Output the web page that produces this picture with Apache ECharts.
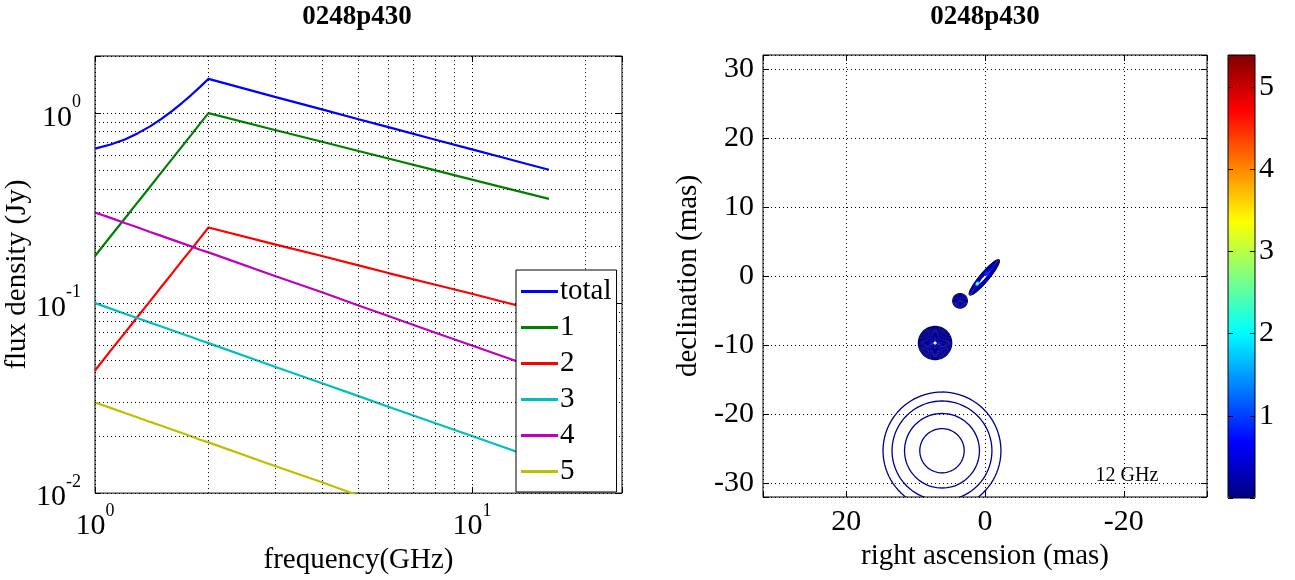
<!DOCTYPE html>
<html><head><meta charset="utf-8">
<script src="https://cdn.jsdelivr.net/npm/echarts@6/dist/echarts.min.js"></script>
<style>html,body{margin:0;padding:0;background:#fff}#c{width:1295px;height:580px}</style>
</head><body><div id="c"></div>
<script>
// ---------------- data ----------------
const TITLE_LEFT = '0248p430';
const TITLE_RIGHT = '0248p430';
const FREQ_LABEL = 'frequency(GHz)';
const FLUX_LABEL = 'flux density (Jy)';
const RA_LABEL = 'right ascension (mas)';
const DEC_LABEL = 'declination (mas)';
const MAP_FREQ_TEXT = '12 GHz';

const SERIES_NAMES = ['total', '1', '2', '3', '4', '5'];
const FREQ = [1, 1.1, 1.2, 1.3, 1.4, 1.5, 1.6, 1.7, 1.8, 1.9, 2, 3, 4, 5, 6, 8, 10, 12, 14, 16];
const S_TOTAL = [0.651, 0.684, 0.727, 0.785, 0.852, 0.934, 1.026, 1.131, 1.246, 1.375, 1.515, 1.219, 1.047, 0.929, 0.844, 0.725, 0.645, 0.586, 0.540, 0.504];
const S_1 = [0.177, 0.225, 0.279, 0.341, 0.410, 0.488, 0.573, 0.667, 0.769, 0.881, 1.0, 0.816, 0.707, 0.632, 0.577, 0.5, 0.447, 0.408, 0.378, 0.354];
const S_2 = [0.0442, 0.0562, 0.0697, 0.0853, 0.1025, 0.122, 0.143, 0.167, 0.192, 0.220, 0.25, 0.204, 0.177, 0.158, 0.144, 0.125, 0.112, 0.102, 0.0945, 0.0884];
const S_3 = [0.1, 0.0936, 0.088, 0.0832, 0.079, 0.0753, 0.072, 0.069, 0.0663, 0.0638, 0.0616, 0.0463, 0.0379, 0.0324, 0.0285, 0.0233, 0.0200, 0.0176, 0.0158, 0.0144];
const S_4 = [0.3, 0.281, 0.264, 0.250, 0.237, 0.226, 0.216, 0.207, 0.199, 0.191, 0.185, 0.139, 0.114, 0.0972, 0.0855, 0.0699, 0.0599, 0.0527, 0.0473, 0.0431];
const S_5 = [0.03, 0.0281, 0.0264, 0.025, 0.0237, 0.0226, 0.0216, 0.0207, 0.0199, 0.0191, 0.0185, 0.0139, 0.0114, 0.00972, 0.00855, 0.00699, 0.00599, 0.00527, 0.00473, 0.00431];
const SERIES_COLORS = ['#0000ff', '#008000', '#ff0000', '#00bfbf', '#bf00bf', '#bfbf00'];

const X_MINOR_GRID = [2, 3, 4, 5, 6, 7, 8, 9, 20];
const Y_MINOR_GRID = [0.02, 0.03, 0.04, 0.05, 0.06, 0.07, 0.08, 0.09, 0.2, 0.3, 0.4, 0.5, 0.6, 0.7, 0.8, 0.9];

// contour map components (RA, Dec in mas; ring semi-major axes in mas; contour levels)
const COMP_RA = [0.1, 1.1, -0.2, 3.6, 7.2, 6.2];
const COMP_DEC = [-0.2, -1.1, 0.4, -3.6, -9.7, -25.3];
const COMP_PA = [-40, -40, -40, 0, 0, 0];
const COMP_RATIO = [0.19, 0.6, 0.5, 1, 1, 1];
const COMP_RING_RADII = [
  [3.3, 3.1, 2.9, 2.7, 2.5, 2.3, 2.1, 1.9, 1.7, 1.5, 1.3],
  [0.3, 0.16],
  [0.35, 0.2],
  [1.05, 0.92, 0.79, 0.66, 0.53, 0.4, 0.27, 0.14],
  [2.4, 2.27, 2.14, 2.01, 1.88, 1.75, 1.62, 1.49, 1.36, 1.23, 1.1, 0.97, 0.84, 0.71, 0.58, 0.45, 0.32],
  [8.5, 7.2, 5.4, 3.2]
];
const COMP_RING_LEVELS = [
  [0.04, 0.07, 0.1, 0.13, 0.16, 0.2, 0.24, 0.28, 0.32, 0.36, 0.4],
  [1.4, 2.7],
  [0.6, 0.9],
  [0.04, 0.06, 0.08, 0.1, 0.12, 0.14, 0.16, 0.18],
  [0.02, 0.03, 0.04, 0.05, 0.06, 0.07, 0.08, 0.09, 0.1, 0.11, 0.12, 0.13, 0.14, 0.15, 0.16, 0.17, 0.18],
  [0.03, 0.06, 0.09, 0.12]
];
const CBAR_MIN = 0;
const CBAR_MAX = 5.39;
const JET = ['#000080', '#0000ff', '#0080ff', '#00ffff', '#80ff80', '#ffff00', '#ff8000', '#ff0000', '#800000'];

// ---------------- build ----------------
const SERIF = "'Liberation Serif', 'Times New Roman', serif";
const BLACK = '#000';
const DOT = [1, 3];

const specs = [S_TOTAL, S_1, S_2, S_3, S_4, S_5];
const lineSeries = specs.map((arr, k) => ({
  name: SERIES_NAMES[k], type: 'line', xAxisIndex: 0, yAxisIndex: 0,
  data: FREQ.map((f, i) => [f, arr[i]]),
  symbol: 'none', clip: true, z: 3,
  lineStyle: { color: SERIES_COLORS[k], width: 2.2 },
  itemStyle: { color: SERIES_COLORS[k] }
}));

const contourRows = [];
COMP_RA.forEach((ra, c) => {
  COMP_RING_RADII[c].forEach((a, j) => {
    contourRows.push([ra, COMP_DEC[c], a, a * COMP_RATIO[c], COMP_PA[c], COMP_RING_LEVELS[c][j]]);
  });
});

function expLabel(v) {
  const e = Math.log10(v);
  const r = Math.round(e);
  if (Math.abs(e - r) > 1e-6) return '';
  return '{b|10}{s|' + r + '}';
}
const RICH = {
  b: { fontSize: 30, fontFamily: SERIF, color: BLACK, padding: [9, 0, 0, 0] },
  s: { fontSize: 18, fontFamily: SERIF, color: BLACK, verticalAlign: 'top' }
};
const nameStyle = { fontSize: 29, fontFamily: SERIF, color: BLACK };
const tickLbl = { fontSize: 30, fontFamily: SERIF, color: BLACK };
const noLine = { show: false, onZero: false };

function ellipseItem(params, api) {
  const ra = api.value(0), dec = api.value(1), a = api.value(2), b = api.value(3);
  const pa = api.value(4) * Math.PI / 180;
  const pts = [];
  for (let k = 0; k < 90; k++) {
    const t = 2 * Math.PI * k / 90;
    const dRa = a * Math.cos(t) * Math.sin(pa) + b * Math.sin(t) * Math.cos(pa);
    const dDec = a * Math.cos(t) * Math.cos(pa) - b * Math.sin(t) * Math.sin(pa);
    pts.push(api.coord([ra + dRa, dec + dDec]));
  }
  return { type: 'polygon', shape: { points: pts }, style: { fill: 'none', stroke: api.visual('color'), lineWidth: 1.3 } };
}

const chart = echarts.init(document.getElementById('c'), null, { renderer: 'canvas' });
chart.setOption({
  animation: false,
  backgroundColor: '#fff',
  title: [
    { text: TITLE_LEFT, left: 357, top: 4, textAlign: 'center', padding: 0,
      textStyle: { fontSize: 27, fontWeight: 'bold', fontFamily: SERIF, color: BLACK } },
    { text: TITLE_RIGHT, left: 985, top: 4, textAlign: 'center', padding: 0,
      textStyle: { fontSize: 27, fontWeight: 'bold', fontFamily: SERIF, color: BLACK } }
  ],
  grid: [
    { left: 95, top: 56, width: 527, height: 444, show: true, borderColor: BLACK, borderWidth: 1, backgroundColor: '#fff' },
    { left: 763, top: 55, width: 444, height: 442, show: true, borderColor: BLACK, borderWidth: 1, backgroundColor: '#fff' },
    { left: 1228, top: 55, width: 27, height: 443, show: false }
  ],
  legend: {
    data: SERIES_NAMES, orient: 'vertical', left: 516, top: 270, icon: 'rect',
    padding: [7, 5, 6, 5], itemGap: 7, itemWidth: 37, itemHeight: 3,
    backgroundColor: '#fff', borderColor: BLACK, borderWidth: 1, borderRadius: 0,
    textStyle: { fontSize: 29, lineHeight: 28, fontFamily: SERIF, color: BLACK, padding: [0, 0, 0, -3] },
    selectedMode: false, z: 10
  },
  xAxis: [
    { type: 'log', logBase: 10, gridIndex: 0, min: 1, max: 25, position: 'bottom',
      axisLine: noLine, axisTick: { inside: true, length: 6, lineStyle: { color: BLACK } },
      splitLine: { show: true, lineStyle: { color: BLACK, type: DOT, width: 1 } },
      axisLabel: { margin: 9, formatter: expLabel, rich: RICH },
      name: FREQ_LABEL, nameLocation: 'middle', nameGap: 44, nameTextStyle: nameStyle },
    { type: 'log', logBase: 10, gridIndex: 0, min: 1, max: 25, position: 'top',
      axisLine: noLine, axisTick: { inside: true, length: 6, lineStyle: { color: BLACK } },
      splitLine: { show: false }, axisLabel: { show: false } },
    { type: 'value', gridIndex: 1, min: -32, max: 32, inverse: true, splitNumber: 3, position: 'bottom',
      axisLine: noLine, axisTick: { inside: true, length: 6, lineStyle: { color: BLACK } },
      splitLine: { show: true, lineStyle: { color: BLACK, type: DOT, width: 1 } },
      axisLabel: { margin: 10, ...tickLbl, formatter: v => (v % 20 === 0 ? String(v) : '') },
      name: RA_LABEL, nameLocation: 'middle', nameGap: 37, nameTextStyle: nameStyle },
    { type: 'value', gridIndex: 1, min: -32, max: 32, inverse: true, splitNumber: 3, position: 'top',
      axisLine: noLine, axisTick: { inside: true, length: 6, lineStyle: { color: BLACK } },
      splitLine: { show: false }, axisLabel: { show: false } },
    { type: 'value', gridIndex: 2, min: 0, max: 1, show: false, axisLine: noLine }
  ],
  yAxis: [
    { type: 'log', logBase: 10, gridIndex: 0, min: 0.01, max: 2, position: 'left',
      axisLine: noLine, axisTick: { inside: true, length: 6, lineStyle: { color: BLACK } },
      splitLine: { show: true, lineStyle: { color: BLACK, type: DOT, width: 1 } },
      axisLabel: { margin: 14, formatter: expLabel, rich: RICH },
      name: FLUX_LABEL, nameLocation: 'middle', nameGap: 58, nameTextStyle: nameStyle },
    { type: 'log', logBase: 10, gridIndex: 0, min: 0.01, max: 2, position: 'right',
      axisLine: noLine, axisTick: { inside: true, length: 6, lineStyle: { color: BLACK } },
      splitLine: { show: false }, axisLabel: { show: false } },
    { type: 'value', gridIndex: 1, min: -32, max: 32, splitNumber: 6, position: 'left',
      axisLine: noLine, axisTick: { inside: true, length: 6, lineStyle: { color: BLACK } },
      splitLine: { show: true, lineStyle: { color: BLACK, type: DOT, width: 1 } },
      axisLabel: { margin: 9, ...tickLbl, formatter: v => (v % 10 === 0 ? String(v) : '') },
      name: DEC_LABEL, nameLocation: 'middle', nameGap: 60, nameTextStyle: nameStyle },
    { type: 'value', gridIndex: 1, min: -32, max: 32, splitNumber: 6, position: 'right',
      axisLine: noLine, axisTick: { inside: true, length: 6, lineStyle: { color: BLACK } },
      splitLine: { show: false }, axisLabel: { show: false } },
    { type: 'value', gridIndex: 2, min: CBAR_MIN, max: CBAR_MAX, interval: 1, position: 'right', z: 10,
      axisLine: noLine, axisTick: { inside: true, length: 5, lineStyle: { color: BLACK } },
      splitLine: { show: false },
      axisLabel: { margin: 4, ...tickLbl, formatter: v => (v > 0 && v % 1 === 0 ? String(v) : '') } },
    { type: 'value', gridIndex: 2, min: CBAR_MIN, max: CBAR_MAX, interval: 1, position: 'left', z: 10,
      axisLine: noLine, axisTick: { inside: true, length: 5, lineStyle: { color: BLACK } },
      splitLine: { show: false }, axisLabel: { show: false } }
  ],
  visualMap: {
    type: 'continuous', min: CBAR_MIN, max: CBAR_MAX, seriesIndex: 7, dimension: 5,
    orient: 'vertical', left: 1228, top: 55, itemWidth: 27, itemHeight: 443, padding: 0,
    calculable: false, hoverLink: false, text: null, showLabel: false,
    inRange: { color: JET }
  },
  series: [
    ...lineSeries,
    { type: 'line', xAxisIndex: 0, yAxisIndex: 0, data: [], z: 1, silent: true,
      markLine: { silent: true, symbol: ['none', 'none'], label: { show: false }, animation: false,
        lineStyle: { color: BLACK, type: DOT, width: 1 },
        emphasis: { disabled: true },
        data: X_MINOR_GRID.map(v => ({ xAxis: v })).concat(Y_MINOR_GRID.map(v => ({ yAxis: v }))) } },
    { type: 'custom', xAxisIndex: 2, yAxisIndex: 2, clip: true, silent: true,
      renderItem: ellipseItem, encode: { x: 0, y: 1 }, data: contourRows, z: 3 }
  ],
  graphic: [
    { type: 'rect', z: 100, shape: { x: 1228, y: 55, width: 27, height: 443 },
      style: { fill: 'none', stroke: BLACK, lineWidth: 1 }, silent: true },
    { type: 'text', z: 100, x: 1127, y: 476, silent: true,
      style: { text: MAP_FREQ_TEXT, fontSize: 20, fontFamily: SERIF, fill: BLACK, align: 'center', verticalAlign: 'middle' } }
  ]
});
</script>
</body></html>
